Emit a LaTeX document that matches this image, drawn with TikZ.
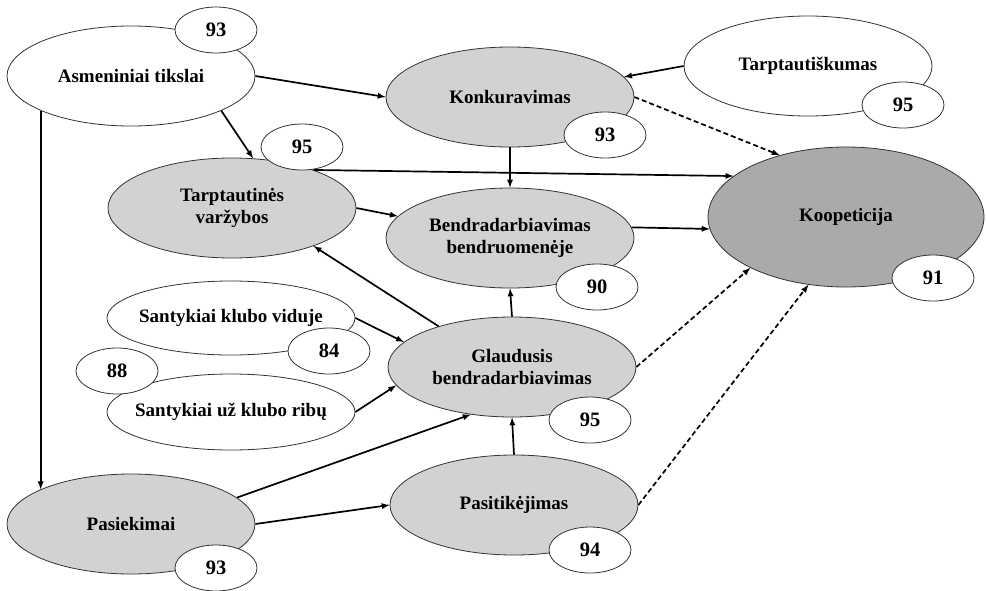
\documentclass[tikz,border=0pt]{standalone}
\usepackage{fontspec}
\setmainfont{Liberation Serif}
\usetikzlibrary{shapes.geometric}
\begin{document}
\begin{tikzpicture}[x=1pt,y=-1pt,
        every node/.style={font=\bfseries\fontsize{19}{22}\selectfont},
        factor/.style={ellipse,draw=black!80,line width=0.8pt,fill=gray!35,inner sep=0pt,align=center,minimum width=248pt,minimum height=100pt},
        outer/.style={factor,fill=white},
        score/.style={ellipse,draw=black!80,line width=0.8pt,fill=white,inner sep=0pt,minimum width=82pt,minimum height=46pt,font=\bfseries\fontsize{20.5}{22}\selectfont},
        arr/.style={line width=1.7pt,-latex},
        darr/.style={arr,dash pattern=on 5pt off 3pt}]
        \useasboundingbox (0,0) rectangle (986,590);
        \node[outer] (asm) at (131,76) {Asmeniniai tikslai};
        \node[factor] (konk) at (510,97) {Konkuravimas};
        \node[outer] (tis) at (808,66) {Tarptautiškumas};
        \node[factor] (tv) at (232,208) {Tarptautinės\\varžybos};
        \node[factor] (bb) at (510,238) {Bendradarbiavimas\\bendruomenėje};
        \node[factor,fill=gray!67,minimum width=276pt,minimum height=140pt] (koop) at (846,217) {Koopeticija};
        \node[outer,inner xsep=-9pt,minimum height=74pt] (skv) at (231,318) {Santykiai klubo viduje};
        \node[outer,inner xsep=-9pt,minimum height=76pt] (suk) at (231,412) {Santykiai už klubo ribų};
        \node[factor] (gb) at (512,367) {Glaudusis\\bendradarbiavimas};
        \node[factor] (pa) at (131,524) {Pasiekimai};
        \node[factor] (pt) at (514,505) {Pasitikėjimas};
        \node[score] (s-asm) at (216,30) {93};
        \node[score] (s-konk) at (605,135) {93};
        \node[score] (s-tis) at (903,105) {95};
        \node[score] (s-tv) at (302,147) {95};
        \node[score] (s-bb) at (597,287) {90};
        \node[score] (s-koop) at (933,278) {91};
        \node[score] (s-skv) at (329,351) {84};
        \node[score] (s-suk) at (117,371) {88};
        \node[score] (s-gb) at (590,420) {95};
        \node[score] (s-pt) at (590,550) {94};
        \node[score] (s-pa) at (216,568) {93};
        \draw[arr] (asm.east) -- (konk.west);
        \draw[arr] (asm.-21) -- (tv.67);
        \draw[arr] (asm.201) -- (pa.159);
        \draw[arr] (tis.west) -- (konk.10);
        \draw[darr] (konk.east) -- (koop.137);
        \draw[arr] (konk.south) -- (bb.north);
        \draw[arr] (tv.25) -- (koop.160);
        \draw[arr] (tv.east) -- (bb.169);
        \draw[arr] (bb.5) -- (koop.185);
        \draw[arr] (gb.north) -- (bb.south);
        \draw[arr] (gb.151) -- (tv.-25);
        \draw[darr] (gb.east) -- (koop.208);
        \draw[arr] (skv.east) -- (gb.167);
        \draw[arr] (suk.east) -- (gb.189);
        \draw[arr] (pa.14) -- (gb.229);
        \draw[arr] (pt.north) -- (gb.south);
        \draw[arr] (pa.east) -- (pt.west);
        \draw[darr] (pt.east) -- (koop.241);
    \end{tikzpicture}
\end{document}
